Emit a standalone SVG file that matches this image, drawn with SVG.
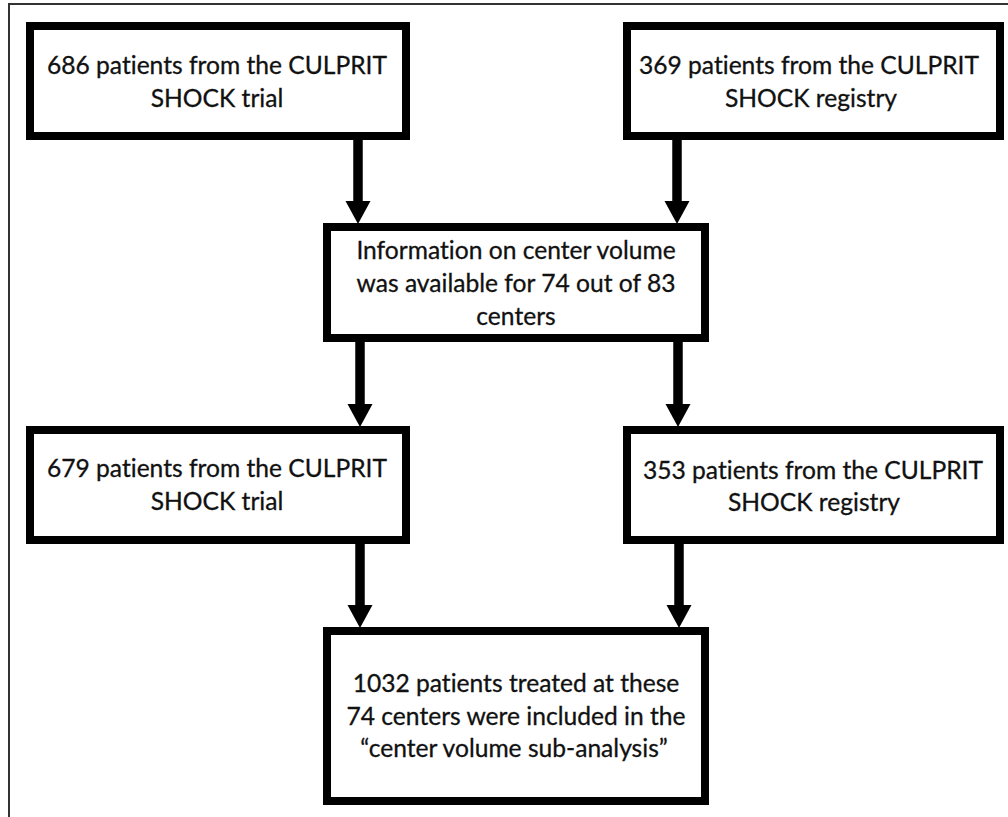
<svg xmlns="http://www.w3.org/2000/svg" width="1008" height="817" viewBox="0 0 1008 817">
  <style>
    .box { fill: #ffffff; stroke: #000000; stroke-width: 8; }
    .lbl { font-family: Lato, "Liberation Sans", sans-serif; font-size: 24.6px; fill: #111111; text-anchor: middle; font-variant-ligatures: none; stroke: #111111; stroke-width: 0.3; }
    .conn { stroke: #000000; stroke-width: 9.5; fill: none; }
    .frame { stroke: #333333; stroke-width: 2; fill: none; }
  </style>
  <defs>
    <marker id="ah" markerUnits="userSpaceOnUse" markerWidth="26" markerHeight="26" refX="0" refY="12.5" orient="auto">
      <path d="M0,0 L23,12.5 L0,25 Z" fill="#000000"/>
    </marker>
  </defs>
  <rect x="0" y="0" width="1008" height="817" fill="#ffffff"/>
  <path class="frame" d="M9,817 L9,4 L1008,4"/>

  <g id="connectors">
    <line class="conn" x1="358" y1="140" x2="358" y2="201" marker-end="url(#ah)"/>
    <line class="conn" x1="677" y1="140" x2="677" y2="201" marker-end="url(#ah)"/>
    <line class="conn" x1="360" y1="342" x2="360" y2="404" marker-end="url(#ah)"/>
    <line class="conn" x1="678" y1="342" x2="678" y2="404" marker-end="url(#ah)"/>
    <line class="conn" x1="360" y1="544" x2="360" y2="605" marker-end="url(#ah)"/>
    <line class="conn" x1="679" y1="544" x2="679" y2="605" marker-end="url(#ah)"/>
  </g>

  <g id="node-trial-686">
    <rect class="box" x="30" y="26" width="376" height="110"/>
    <text class="lbl" x="217" y="74">686 patients from the CULPRIT</text>
    <text class="lbl" x="217" y="107">SHOCK trial</text>
  </g>

  <g id="node-registry-369">
    <rect class="box" x="627" y="26" width="373" height="110"/>
    <text class="lbl" x="809" y="74">369 patients from the CULPRIT</text>
    <text class="lbl" x="811" y="107">SHOCK registry</text>
  </g>

  <g id="node-center-info">
    <rect class="box" x="327" y="227" width="378" height="111"/>
    <text class="lbl" x="516" y="259">Information on center volume</text>
    <text class="lbl" x="516" y="292">was available for 74 out of 83</text>
    <text class="lbl" x="516" y="325">centers</text>
  </g>

  <g id="node-trial-679">
    <rect class="box" x="30" y="430" width="376" height="110"/>
    <text class="lbl" x="217" y="477">679 patients from the CULPRIT</text>
    <text class="lbl" x="217" y="510">SHOCK trial</text>
  </g>

  <g id="node-registry-353">
    <rect class="box" x="627" y="430" width="373" height="110"/>
    <text class="lbl" x="813" y="479">353 patients from the CULPRIT</text>
    <text class="lbl" x="814" y="511">SHOCK registry</text>
  </g>

  <g id="node-included">
    <rect class="box" x="327" y="631" width="378" height="170"/>
    <text class="lbl" x="516" y="692">1032 patients treated at these</text>
    <text class="lbl" x="516" y="725">74 centers were included in the</text>
    <text class="lbl" x="514" y="757">“center volume sub-analysis”</text>
  </g>
</svg>
